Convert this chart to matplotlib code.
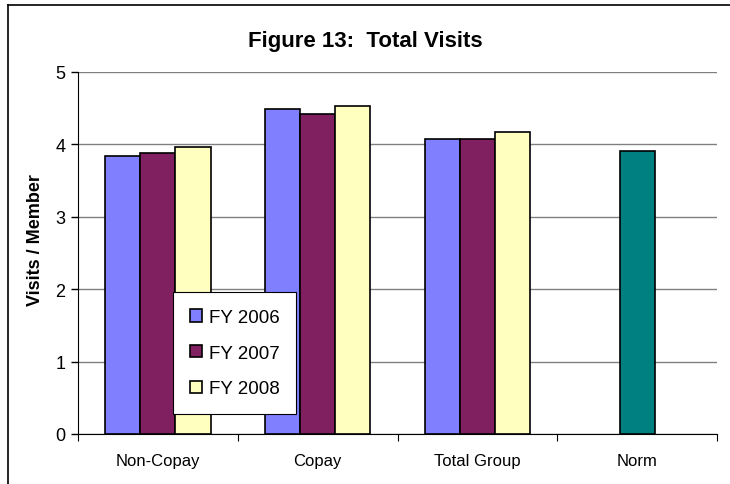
import matplotlib.pyplot as plt
import numpy as np
from matplotlib.lines import Line2D

categories = ['Non-Copay', 'Copay', 'Total Group', 'Norm']
fy2006 = [3.84, 4.48, 4.07]
fy2007 = [3.88, 4.42, 4.07]
fy2008 = [3.96, 4.53, 4.16]
norm = [3.91]
series_names = ['FY 2006', 'FY 2007', 'FY 2008']


def main():
    plt.rcParams['font.family'] = ['Liberation Sans', 'DejaVu Sans']
    fig = plt.figure(figsize=(7.3, 4.85), dpi=100)
    ax = fig.add_axes([78 / 730, 1 - 435 / 485, (717 - 78) / 730, (435 - 72.6) / 485])

    w = 0.22
    x = np.arange(3)
    colors = ['#8080FF', '#802060', '#FFFFC0']
    for i, (vals, c, name) in enumerate(zip([fy2006, fy2007, fy2008], colors, series_names)):
        ax.bar(x + (i - 1) * w, vals, w, color=c, edgecolor='black', linewidth=1.2,
               label=name, zorder=3)
    ax.bar([3], norm, w, color='#008080', edgecolor='black', linewidth=1.2, zorder=3)

    ax.set_xlim(-0.5, 3.5)
    ax.set_ylim(0, 5)
    ax.set_yticks([0, 1, 2, 3, 4, 5])
    ax.yaxis.grid(True, color='#808080', linewidth=1, zorder=0)
    ax.tick_params(axis='y', labelsize=13, length=5, width=1, direction='out', pad=4)

    # category boundaries as major ticks, names on minor ticks
    ax.set_xticks(np.arange(-0.5, 4, 1))
    ax.set_xticklabels([])
    ax.set_xticks(np.arange(4), minor=True)
    ax.set_xticklabels(categories, minor=True, fontsize=12)
    ax.tick_params(axis='x', which='major', length=5, direction='out')
    ax.tick_params(axis='x', which='minor', length=0, pad=14)

    ax.spines['top'].set_visible(False)
    ax.spines['right'].set_visible(False)
    ax.set_ylabel('Visits / Member', fontsize=13, fontweight='bold')
    ax.yaxis.set_label_coords(-(78 - 44) / 639, (435 - 240) / 362.4)

    fig.text(0.5, 1 - 47 / 485, 'Figure 13:  Total Visits', ha='center', va='baseline',
             fontsize=16, fontweight='bold')

    leg = ax.legend(loc='upper left', bbox_to_anchor=(173 / 730, 1 - 293 / 485),
                    bbox_transform=fig.transFigure, fontsize=13.5, frameon=True,
                    fancybox=False, edgecolor='black', framealpha=1,
                    handlelength=0.65, handleheight=0.65, handletextpad=0.35,
                    labelspacing=1.0, borderpad=0.9, borderaxespad=0)
    leg.get_frame().set_linewidth(0.8)
    leg.set_zorder(5)

    # outer chart border (left and top edges visible)
    fig.add_artist(Line2D([8 / 730, 8 / 730], [0, 1 - 6 / 485], color='black', linewidth=1.2,
                          transform=fig.transFigure))
    fig.add_artist(Line2D([8 / 730, 1], [1 - 6 / 485, 1 - 6 / 485], color='black', linewidth=1.2,
                          transform=fig.transFigure))

    fig.savefig('out.png', dpi=100)


if __name__ == '__main__':
    main()
